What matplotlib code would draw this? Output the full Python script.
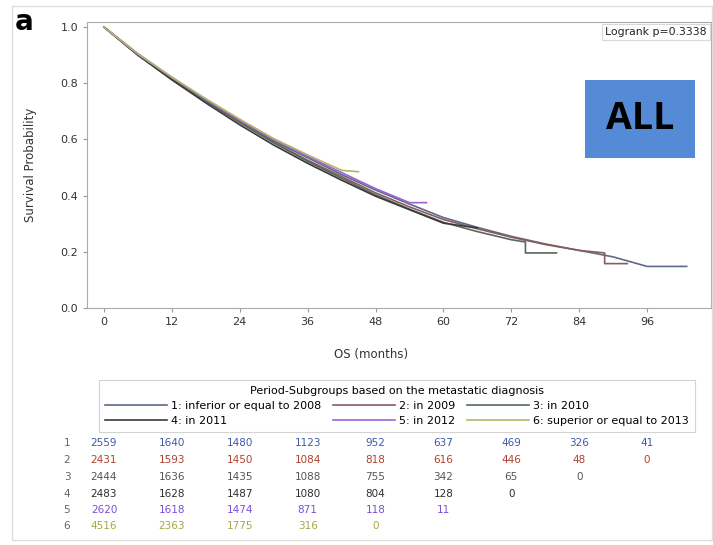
import matplotlib.pyplot as plt
from matplotlib.patches import Rectangle
from matplotlib.lines import Line2D
from matplotlib.transforms import blended_transform_factory

# Kaplan-Meier estimates per diagnosis period (months, survival)
g1_t = [0, 6, 12, 18, 24, 30, 36, 42, 48, 54, 60, 66, 72, 78, 84, 90, 96, 103]
g1_s = [1.0, .905, .82, .74, .665, .595, .535, .475, .42, .37, .322, .287, .255, .228, .205, .182, .148, .148]
g2_t = [0, 6, 12, 18, 24, 30, 36, 42, 48, 54, 60, 66, 72, 78, 84, 88.5, 88.5, 92.5]
g2_s = [1.0, .902, .818, .738, .662, .59, .526, .468, .41, .36, .315, .282, .252, .226, .205, .196, .158, .158]
g3_t = [0, 6, 12, 18, 24, 30, 36, 42, 48, 54, 60, 66, 72, 74.5, 74.5, 80]
g3_s = [1.0, .9, .815, .735, .66, .588, .522, .462, .403, .352, .305, .272, .243, .235, .196, .196]
g4_t = [0, 6, 12, 18, 24, 30, 36, 42, 48, 54, 60, 66]
g4_s = [1.0, .9, .812, .73, .652, .58, .515, .455, .398, .35, .302, .285]
g5_t = [0, 6, 12, 18, 24, 30, 36, 42, 48, 54, 57]
g5_s = [1.0, .903, .82, .742, .668, .6, .54, .482, .425, .375, .375]
g6_t = [0, 6, 12, 18, 24, 30, 36, 42, 45]
g6_s = [1.0, .905, .822, .745, .672, .603, .545, .49, .485]

group_labels = ["1: inferior or equal to 2008", "2: in 2009", "3: in 2010",
                "4: in 2011", "5: in 2012", "6: superior or equal to 2013"]
line_colors = ["#5d6a88", "#8a5c5c", "#55695c", "#3a3a3a", "#9b63d6", "#b5b56a"]
text_colors = ["#3d5aa8", "#b0412f", "#555555", "#2e2e2e", "#7a4fd8", "#a6a64a"]

# numbers at risk every 12 months
risk_times = [0, 12, 24, 36, 48, 60, 72, 84, 96]
at_risk = [
    [2559, 1640, 1480, 1123, 952, 637, 469, 326, 41],
    [2431, 1593, 1450, 1084, 818, 616, 446, 48, 0],
    [2444, 1636, 1435, 1088, 755, 342, 65, 0],
    [2483, 1628, 1487, 1080, 804, 128, 0],
    [2620, 1618, 1474, 871, 118, 11],
    [4516, 2363, 1775, 316, 0],
]

W, H = 713, 545
fig = plt.figure(figsize=(W / 100, H / 100), dpi=100)

def fx(px):
    return px / W

def fy(py):
    return 1 - py / H

# outer panel frame
fig.patches.append(Rectangle((fx(12), fy(540)), fx(700), 534 / H, transform=fig.transFigure,
                             fill=False, edgecolor="#dddddd", lw=1.0))

ax = fig.add_axes([fx(87), fy(308), fx(624), 286 / H])
curves = [(g1_t, g1_s), (g2_t, g2_s), (g3_t, g3_s), (g4_t, g4_s), (g5_t, g5_s), (g6_t, g6_s)]
for (t, s), c in zip(curves, line_colors):
    ax.plot(t, s, color=c, lw=1.2)

ax.set_xlim(-3.0, 107.3)
ax.set_ylim(0, 1.018)
ax.set_xticks(risk_times)
ax.set_yticks([0.0, 0.2, 0.4, 0.6, 0.8, 1.0])
ax.set_yticklabels(["0.0", "0.2", "0.4", "0.6", "0.8", "1.0"])
ax.tick_params(labelsize=8, color="#999999", length=3, labelcolor="#333333")
for sp in ax.spines.values():
    sp.set_color("#aaaaaa")
ax.set_xlabel("OS (months)", fontsize=8.5, color="#333333")
ax.xaxis.set_label_coords((371 - 87) / 624, -40 / 286)
ax.set_ylabel("Survival Probability", fontsize=8.5, color="#333333")
ax.yaxis.set_label_coords(-50 / 624, 0.5)

ax.text(0.993, 0.982, "Logrank p=0.3338", transform=ax.transAxes, ha="right", va="top",
        fontsize=7.8, color="#222222",
        bbox=dict(boxstyle="square,pad=0.3", facecolor="white", edgecolor="#d8d8d8", lw=0.8))

# group label box
fig.patches.append(Rectangle((fx(585), fy(158)), fx(110), 78 / H, transform=fig.transFigure,
                             facecolor="#558ad6", edgecolor="none"))
fig.text(fx(640), fy(119), "ALL", ha="center", va="center", fontsize=27,
         fontweight="bold", family="Open Sans", color="black")

fig.text(fx(15), fy(22), "a", ha="left", va="center", fontsize=20, fontweight="bold")

# legend laid out row-wise (1 2 3 / 4 5 6)
handles = [Line2D([0], [0], color=c, lw=1.2) for c in line_colors]
order = [0, 3, 1, 4, 2, 5]
leg = fig.legend([handles[i] for i in order], [group_labels[i] for i in order],
                 ncol=3, loc="upper center", bbox_to_anchor=(fx(397), fy(374)),
                 title="Period-Subgroups based on the metastatic diagnosis",
                 fontsize=8, title_fontsize=8, handlelength=5.6, handletextpad=0.4,
                 columnspacing=1.0, labelspacing=0.45, borderpad=0.55,
                 frameon=True, fancybox=False, edgecolor="#c8c8c8")
leg.get_frame().set_linewidth(0.8)

# numbers at risk table below the plot
trans = blended_transform_factory(ax.transData, fig.transFigure)
row_y = [443, 460, 477, 494, 510, 526]
for i, (row, col) in enumerate(zip(at_risk, text_colors)):
    fig.text(fx(67), fy(row_y[i]), str(i + 1), ha="center", va="center",
             fontsize=7.5, color="#666666")
    for t, n in zip(risk_times, row):
        ax.text(t, fy(row_y[i]), str(n), transform=trans, ha="center", va="center",
                fontsize=7.5, color=col, clip_on=False)

fig.savefig("out.png", dpi=100)
